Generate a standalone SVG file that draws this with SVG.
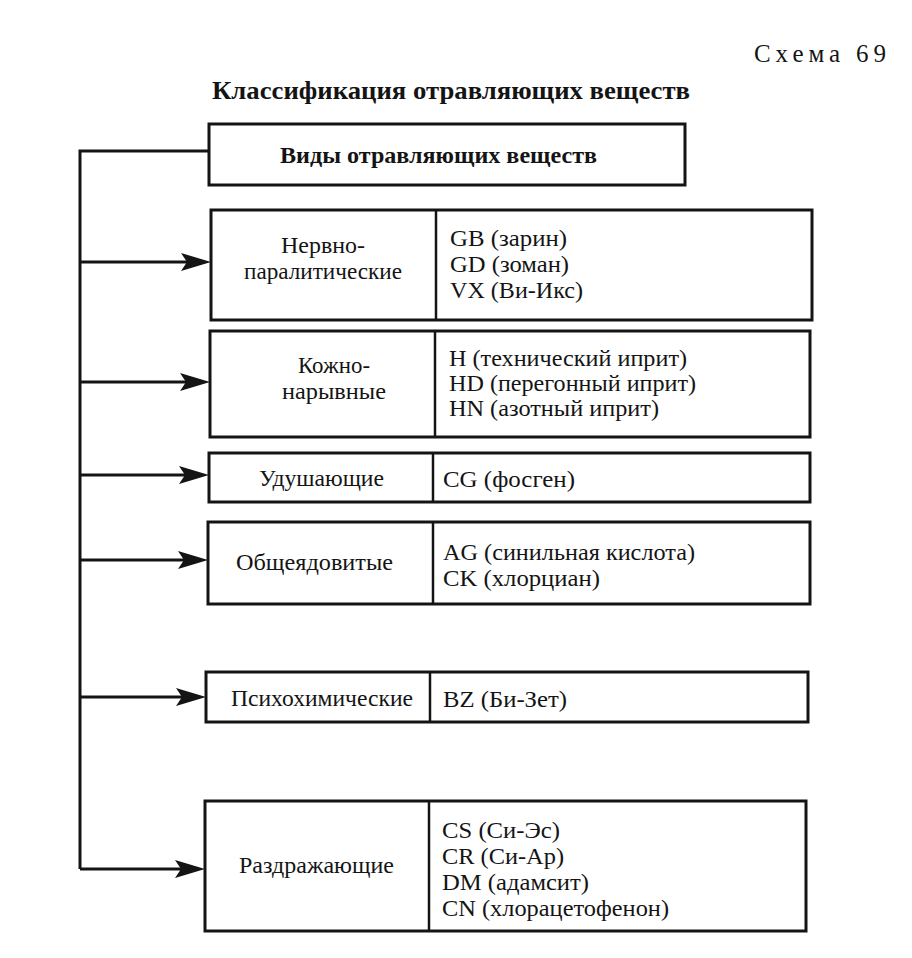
<svg xmlns="http://www.w3.org/2000/svg" width="912" height="958" viewBox="0 0 912 958">
<defs>
<style>
.box{fill:#fff;stroke:#141414;stroke-width:3}
.div{stroke:#141414;stroke-width:2.5}
.t{font-family:"Liberation Serif","Times New Roman",serif;font-size:23px;fill:#141414}
.c{text-anchor:middle}
.b{font-weight:bold}
.ln{fill:none;stroke:#141414;stroke-width:3}
.ah{fill:#141414}
</style>
</defs>
<rect width="912" height="958" fill="#fff"/>
<text x="754" y="62" class="t" style="font-size:25px" textLength="132" lengthAdjust="spacing">Схема 69</text>
<text x="212" y="99" class="t b" style="font-size:25px" textLength="478" lengthAdjust="spacingAndGlyphs">Классификация отравляющих веществ</text>

<g id="connectors">
<polyline class="ln" points="209,151 80,151 80,869"/>
<line class="ln" x1="80" y1="262" x2="200" y2="262"/>
<path class="ah" d="M211,262 L181,253 L187,262 L181,271 Z"/>
<line class="ln" x1="80" y1="382" x2="199" y2="382"/>
<path class="ah" d="M210,382 L180,373 L186,382 L180,391 Z"/>
<line class="ln" x1="80" y1="475" x2="198" y2="475"/>
<path class="ah" d="M209,475 L179,466 L185,475 L179,484 Z"/>
<line class="ln" x1="80" y1="560" x2="197" y2="560"/>
<path class="ah" d="M208,560 L178,551 L184,560 L178,569 Z"/>
<line class="ln" x1="80" y1="697" x2="195" y2="697"/>
<path class="ah" d="M206,697 L176,688 L182,697 L176,706 Z"/>
<line class="ln" x1="80" y1="869" x2="194" y2="869"/>
<path class="ah" d="M205,869 L175,860 L181,869 L175,878 Z"/>
</g>

<g id="root">
<rect class="box" x="209" y="124" width="476" height="61"/>
<text x="280" y="163" class="t b" textLength="317" lengthAdjust="spacingAndGlyphs">Виды отравляющих веществ</text>
</g>

<g id="nerve">
<rect class="box" x="211" y="210" width="601" height="110"/>
<line class="div" x1="436" y1="210" x2="436" y2="320"/>
<text x="281" y="253" class="t" textLength="84" lengthAdjust="spacingAndGlyphs">Нервно-</text>
<text x="244" y="279" class="t" textLength="158" lengthAdjust="spacingAndGlyphs">паралитические</text>
<text x="450" y="246" class="t" textLength="117" lengthAdjust="spacingAndGlyphs">GB (зарин)</text>
<text x="450" y="272" class="t" textLength="119" lengthAdjust="spacingAndGlyphs">GD (зоман)</text>
<text x="450" y="298" class="t" textLength="133" lengthAdjust="spacingAndGlyphs">VX (Ви-Икс)</text>
</g>

<g id="blister">
<rect class="box" x="210" y="331" width="600" height="106"/>
<line class="div" x1="435" y1="331" x2="435" y2="437"/>
<text x="298" y="373" class="t" textLength="72" lengthAdjust="spacingAndGlyphs">Кожно-</text>
<text x="282" y="399" class="t" textLength="104" lengthAdjust="spacingAndGlyphs">нарывные</text>
<text x="449" y="366" class="t" textLength="238" lengthAdjust="spacingAndGlyphs">H (технический иприт)</text>
<text x="449" y="391" class="t" textLength="247" lengthAdjust="spacingAndGlyphs">HD (перегонный иприт)</text>
<text x="449" y="416" class="t" textLength="210" lengthAdjust="spacingAndGlyphs">HN (азотный иприт)</text>
</g>

<g id="choking">
<rect class="box" x="209" y="453" width="601" height="49"/>
<line class="div" x1="433" y1="453" x2="433" y2="502"/>
<text x="259" y="486" class="t" textLength="125" lengthAdjust="spacingAndGlyphs">Удушающие</text>
<text x="443" y="487" class="t" textLength="132" lengthAdjust="spacingAndGlyphs">CG (фосген)</text>
</g>

<g id="blood">
<rect class="box" x="208" y="522" width="602" height="82"/>
<line class="div" x1="433" y1="522" x2="433" y2="604"/>
<text x="236" y="570" class="t" textLength="157" lengthAdjust="spacingAndGlyphs">Общеядовитые</text>
<text x="443" y="560" class="t" textLength="252" lengthAdjust="spacingAndGlyphs">AG (синильная кислота)</text>
<text x="443" y="586" class="t" textLength="157" lengthAdjust="spacingAndGlyphs">CK (хлорциан)</text>
</g>

<g id="psycho">
<rect class="box" x="206" y="672" width="602" height="50"/>
<line class="div" x1="430" y1="672" x2="430" y2="722"/>
<text x="231" y="706" class="t" textLength="182" lengthAdjust="spacingAndGlyphs">Психохимические</text>
<text x="443" y="707" class="t" textLength="124" lengthAdjust="spacingAndGlyphs">BZ (Би-Зет)</text>
</g>

<g id="irritant">
<rect class="box" x="205" y="801" width="601" height="130"/>
<line class="div" x1="429" y1="801" x2="429" y2="931"/>
<text x="239" y="873" class="t" textLength="155" lengthAdjust="spacingAndGlyphs">Раздражающие</text>
<text x="442" y="838" class="t" textLength="118" lengthAdjust="spacingAndGlyphs">CS (Си-Эс)</text>
<text x="442" y="864" class="t" textLength="122" lengthAdjust="spacingAndGlyphs">CR (Си-Ар)</text>
<text x="442" y="890" class="t" textLength="147" lengthAdjust="spacingAndGlyphs">DM (адамсит)</text>
<text x="442" y="916" class="t" textLength="227" lengthAdjust="spacingAndGlyphs">CN (хлорацетофенон)</text>
</g>
</svg>
